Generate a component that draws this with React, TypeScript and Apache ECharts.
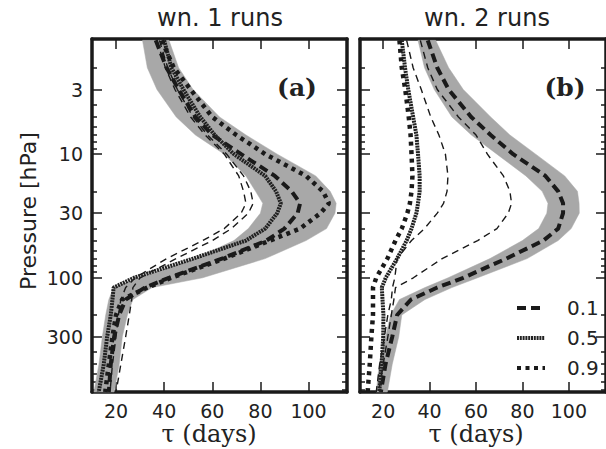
import React, { useEffect, useRef } from "react";
import * as echarts from "echarts";

// Pressure levels (hPa)
const pressure = [1.2, 2, 3, 5, 7, 10, 15, 20, 25, 30, 40, 50, 70, 100, 120, 150, 200, 300, 500, 840];

// Panel (a): wn. 1 runs
const aBandLow = [31, 33, 37, 45, 53, 65, 74, 78, 81, 80, 75, 69, 53, 30, 19, 17, 15.7, 14.3, 12.9, 10.8];
const aBandHigh = [42, 46, 52, 63, 74, 87, 103, 109, 111.5, 111, 107.5, 99, 82, 56, 35, 27, 24.7, 22.6, 21.3, 19.2];
const aDash = [36.5, 41, 46, 53, 60, 72, 86, 93, 96.5, 95.5, 90, 82.5, 64, 42, 32, 24, 21.3, 19.2, 17.8, 17];
const aSolid = [40, 43, 48, 55, 61, 69, 82, 86.5, 88.5, 87, 82, 74, 52, 27.5, 19, 18.5, 17.8, 16.3, 14.9, 12.8];
const aDot = [39, 44, 51, 60, 70, 82, 99, 106, 108.5, 105, 96.5, 84, 65, 43, 33, 22.5, 20, 18.5, 17, 15.5];
const aThin1 = [38, 41.5, 45.5, 52, 58, 66, 73, 76, 77, 75, 68, 60, 45, 30, 27, 26.5, 25.5, 24, 22, 20];
const aThin2 = [37, 40.5, 44.5, 51, 57, 65, 71, 73, 74, 72, 65, 56, 41, 28, 24, 22, 21, 20, 18.5, 17.5];

// Panel (b): wn. 2 runs
const bBandLow = [35, 37.8, 42, 49.6, 58, 69, 81.5, 88.5, 91, 90.5, 87, 80, 66, 48, 38, 27, 23.2, 21, 18.3, 17];
const bBandHigh = [42.6, 48.2, 54.5, 66.3, 74.6, 85.7, 98.2, 103.7, 104.4, 104.5, 101, 95.4, 82, 60.7, 49.6, 38, 28, 26.7, 23.9, 21.8];
const bDash = [39.2, 43.3, 48.2, 57.9, 66.3, 76, 89.9, 95.4, 97.5, 97.5, 95.4, 89, 73, 54.5, 43.3, 32, 26, 23.9, 21, 19];
const bSolid = [28, 29.4, 30.8, 32.9, 34.3, 35, 35.7, 35.7, 35, 34.3, 32.2, 30.1, 26, 21.1, 19.4, 19.7, 20.1, 20, 19.3, 18.3];
const bDot = [27, 28, 29.5, 31, 31.8, 32.2, 32.6, 32.2, 31.5, 30.4, 28, 25.3, 21.8, 17, 15.6, 15.6, 15.6, 14.9, 14.2, 13.3];
const bThin1 = [36, 39.2, 43.3, 52.4, 60, 64.9, 71.8, 74.6, 75.3, 73.9, 69, 60.7, 45.4, 33, 25.3, 24.6, 23.5, 22, 20, 18];
const bThin2 = [30.1, 32.9, 36.4, 40.5, 44, 46.8, 47.9, 47.5, 46, 43.3, 37.8, 32.2, 26, 25, 24, 23.5, 22, 20.5, 18.5, 17];

// Axis ticks
const xTicks = [20, 40, 60, 80, 100];
const yMajor = [3, 10, 30, 100, 300];
const yMinor = [2, 4, 5, 6, 7, 8, 9, 20, 40, 50, 60, 70, 80, 90, 200, 400, 500, 600, 700, 800];
const titles = ["wn. 1 runs", "wn. 2 runs"];
const panelLabels = ["(a)", "(b)"];
const legendNames = ["0.1", "0.5", "0.9"];

const X_MIN = 10;
const X_MAX = 116;
const P_TOP = 1.17;
const P_BOT = 840;

const lp = pressure.map((p) => Math.log10(p));
const toPts = (xs: number[]) => xs.map((x, i) => [x, lp[i]]);

const INK = "#1a1a1a";
const GRAY = "#a8a8a8";
const TXT = "#222";

function bandSeries(low: number[], high: number[], xi: number, yi: number) {
  return {
    type: "custom",
    coordinateSystem: "cartesian2d",
    xAxisIndex: xi,
    yAxisIndex: yi,
    z: 1,
    silent: true,
    data: [[low[0], lp[0]]],
    encode: { x: 0, y: 1 },
    renderItem: (params: any, api: any) => {
      const pts: number[][] = [];
      low.forEach((v, i) => pts.push(api.coord([v, lp[i]])));
      for (let i = high.length - 1; i >= 0; i--) pts.push(api.coord([high[i], lp[i]]));
      return {
        type: "polygon",
        shape: { points: pts },
        style: { fill: GRAY, stroke: GRAY, lineWidth: 0.5 },
      };
    },
  };
}

function lineSeries(name: string, arr: number[], xi: number, yi: number, kind: string) {
  let lineStyle: any;
  if (kind === "dash") lineStyle = { color: INK, width: 4, type: [9, 5], cap: "butt" };
  else if (kind === "solid") lineStyle = { color: "#222", width: 4, type: [2, 0.8], cap: "butt" };
  else if (kind === "dot") lineStyle = { color: INK, width: 4.5, type: [4, 4.5], cap: "butt" };
  else lineStyle = { color: INK, width: 1.4, type: [7, 5], cap: "butt" };
  return {
    type: "line",
    name,
    xAxisIndex: xi,
    yAxisIndex: yi,
    data: toPts(arr),
    symbol: "none",
    showSymbol: false,
    z: kind === "thin" ? 2 : 3,
    lineStyle,
    itemStyle: { color: INK },
    silent: true,
  };
}

function xAxes(grid: number) {
  const base = {
    gridIndex: grid,
    type: "value",
    min: X_MIN,
    max: X_MAX,
    splitLine: { show: false },
    axisLine: { show: true, onZero: false, lineStyle: { color: INK, width: 3.5 } },
  };
  return [
    {
      ...base,
      position: "bottom",
      axisTick: { show: true, inside: true, length: 10, customValues: xTicks, lineStyle: { color: INK, width: 1.5 } },
      axisLabel: {
        show: true,
        customValues: xTicks,
        margin: 9,
        fontSize: 19,
        fontFamily: "DejaVu Sans",
        color: TXT,
      },
    },
    {
      ...base,
      position: "top",
      axisTick: { show: true, inside: true, length: 10, customValues: xTicks, lineStyle: { color: INK, width: 1.5 } },
      axisLabel: { show: false },
    },
  ];
}

function yAxes(grid: number, labels: boolean) {
  const base = {
    gridIndex: grid,
    type: "value",
    inverse: true,
    min: Math.log10(P_TOP),
    max: Math.log10(P_BOT),
    splitLine: { show: false },
  };
  const major = yMajor.map((v) => Math.log10(v));
  const minor = yMinor.map((v) => Math.log10(v));
  const mk = (pos: string, vals: number[], len: number, showLine: boolean, showLabel: boolean) => ({
    ...base,
    position: pos,
    axisLine: { show: showLine, onZero: false, lineStyle: { color: INK, width: 3.5 } },
    axisTick: { show: true, inside: true, length: len, customValues: vals, lineStyle: { color: INK, width: 1.5 } },
    axisLabel: showLabel
      ? {
          show: true,
          customValues: major,
          margin: 9,
          fontSize: 19,
          fontFamily: "DejaVu Sans",
          color: TXT,
          formatter: (v: number) => String(Math.round(Math.pow(10, v))),
        }
      : { show: false },
  });
  return [
    mk("left", major, 10, true, labels),
    mk("left", minor, 5, false, false),
    mk("right", major, 10, true, false),
    mk("right", minor, 5, false, false),
  ];
}

export default function App() {
  const ref = useRef<HTMLDivElement>(null);
  useEffect(() => {
    if (!ref.current) return;
    const chart = echarts.init(ref.current, undefined, { renderer: "svg" });
    const grids = [
      { left: 92, top: 39, width: 255, height: 353 },
      { left: 360, top: 39, width: 255, height: 353 },
    ];
    const option: any = {
      animation: false,
      backgroundColor: "#ffffff",
      grid: grids,
      xAxis: [...xAxes(0), ...xAxes(1)],
      yAxis: [...yAxes(0, true), ...yAxes(1, false)],
      legend: {
        data: legendNames,
        orient: "vertical",
        left: 510,
        top: 293,
        itemWidth: 28,
        itemHeight: 14,
        itemGap: 10,
        selectedMode: false,
        itemStyle: { opacity: 0 },
        lineStyle: { width: 4 },
        textStyle: { fontSize: 20, fontFamily: "DejaVu Sans", color: TXT, padding: [0, 0, 0, 17] },
      },
      graphic: [
        {
          type: "text",
          x: 220,
          y: 18,
          style: { text: titles[0], align: "center", verticalAlign: "middle", fontSize: 24, fontFamily: "DejaVu Sans", fill: TXT },
        },
        {
          type: "text",
          x: 487,
          y: 18,
          style: { text: titles[1], align: "center", verticalAlign: "middle", fontSize: 24, fontFamily: "DejaVu Sans", fill: TXT },
        },
        {
          type: "text",
          x: 28,
          y: 211,
          rotation: Math.PI / 2,
          style: { text: "Pressure [hPa]", align: "center", verticalAlign: "middle", fontSize: 22, fontFamily: "DejaVu Sans", fill: TXT },
        },
        {
          type: "text",
          x: 209,
          y: 434,
          style: { text: "τ (days)", align: "center", verticalAlign: "middle", fontSize: 24, fontFamily: "DejaVu Serif", fill: TXT },
        },
        {
          type: "text",
          x: 476,
          y: 434,
          style: { text: "τ (days)", align: "center", verticalAlign: "middle", fontSize: 24, fontFamily: "DejaVu Serif", fill: TXT },
        },
        {
          type: "text",
          x: 297,
          y: 87,
          z: 10,
          style: { text: panelLabels[0], align: "center", verticalAlign: "middle", fontSize: 25, fontWeight: "bold", fontFamily: "DejaVu Serif", fill: TXT },
        },
        {
          type: "text",
          x: 565,
          y: 87,
          z: 10,
          style: { text: panelLabels[1], align: "center", verticalAlign: "middle", fontSize: 25, fontWeight: "bold", fontFamily: "DejaVu Serif", fill: TXT },
        },
      ],
      series: [
        bandSeries(aBandLow, aBandHigh, 0, 0),
        lineSeries("thin a1", aThin1, 0, 0, "thin"),
        lineSeries("thin a2", aThin2, 0, 0, "thin"),
        lineSeries(legendNames[0], aDash, 0, 0, "dash"),
        lineSeries(legendNames[1], aSolid, 0, 0, "solid"),
        lineSeries(legendNames[2], aDot, 0, 0, "dot"),
        bandSeries(bBandLow, bBandHigh, 2, 4),
        lineSeries("thin b1", bThin1, 2, 4, "thin"),
        lineSeries("thin b2", bThin2, 2, 4, "thin"),
        lineSeries(legendNames[0], bDash, 2, 4, "dash"),
        lineSeries(legendNames[1], bSolid, 2, 4, "solid"),
        lineSeries(legendNames[2], bDot, 2, 4, "dot"),
      ],
    };
    chart.setOption(option);
    return () => chart.dispose();
  }, []);
  return (
    <div
      ref={ref}
      style={{ position: "absolute", left: 0, top: 0, width: 606, height: 449, background: "#fff" }}
    />
  );
}
